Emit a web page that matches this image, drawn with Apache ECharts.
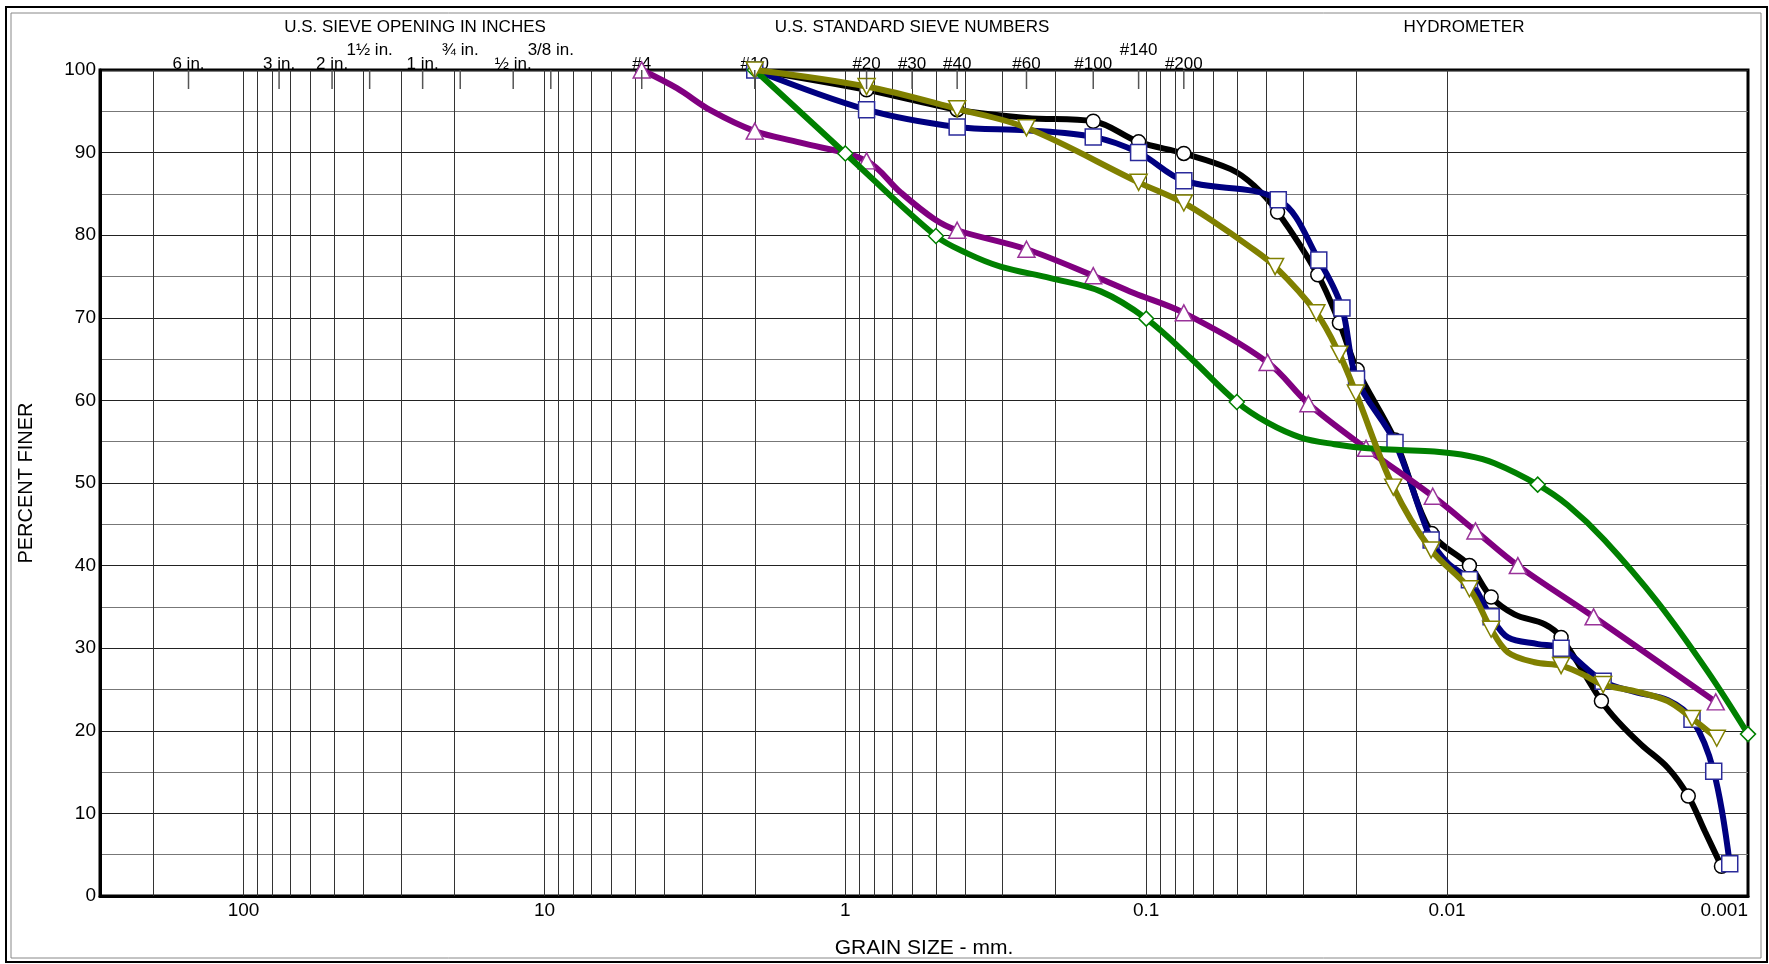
<!DOCTYPE html>
<html><head><meta charset="utf-8">
<script src="https://cdn.jsdelivr.net/npm/echarts@6/dist/echarts.min.js"></script>
<style>html,body{margin:0;padding:0;background:#fff}#c{width:1769px;height:964px}</style>
</head><body><div id="c"></div>
<script>
// ---- top sieve scale ----
const sieveSizes  = [152.4, 76.2, 50.8, 38.1, 25.4, 19.05, 12.7, 9.525, 4.75, 2.0, 0.85, 0.6, 0.425, 0.25, 0.15, 0.106, 0.075];
const sieveLabels = ['6 in.', '3 in.', '2 in.', '1½ in.', '1 in.', '¾ in.', '½ in.', '3/8 in.', '#4', '#10', '#20', '#30', '#40', '#60', '#100', '#140', '#200'];
const sieveRaised = [0, 0, 0, 1, 0, 1, 0, 1, 0, 0, 0, 0, 0, 0, 0, 1, 0];
const groupTitles = ['U.S. SIEVE OPENING IN INCHES', 'U.S. STANDARD SIEVE NUMBERS', 'HYDROMETER'];
const xTickLabels = [100, 10, 1, 0.1, 0.01, 0.001];

// ---- sample data: [grain size mm, percent finer] (marker points) ----
const blackMarks  = [[2.0,100],[0.85,97.6],[0.425,95.2],[0.15,93.8],[0.106,91.3],[0.075,89.9],[0.0366,82.8],[0.0269,75.2],[0.0228,69.4],[0.0199,63.7],[0.0149,55.2],[0.01125,43.9],[0.00843,40.0],[0.00714,36.2],[0.00418,31.3],[0.00307,23.6],[0.00158,12.1],[0.001225,3.6]];
const blueMarks   = [[2.0,100],[0.85,95.2],[0.425,93.1],[0.15,91.9],[0.106,90.0],[0.075,86.6],[0.0364,84.3],[0.0267,77.0],[0.02236,71.2],[0.0200,62.6],[0.0149,54.9],[0.0113,43.1],[0.00843,38.3],[0.00714,33.8],[0.00418,30.0],[0.00303,26.0],[0.001535,21.4],[0.0013,15.1],[0.00115,3.9]];
const oliveMarks  = [[2.0,100],[0.85,98.0],[0.425,95.3],[0.25,93.0],[0.106,86.4],[0.075,83.9],[0.0373,76.2],[0.0272,70.6],[0.0228,65.6],[0.0201,60.9],[0.0151,49.5],[0.0113,41.9],[0.00843,37.2],[0.00714,32.3],[0.00418,27.9],[0.00303,25.6],[0.001535,21.5],[0.00127,19.1]];
const purpleMarks = [[4.75,100],[2.0,92.6],[0.85,89.0],[0.425,80.6],[0.25,78.3],[0.15,75.1],[0.075,70.6],[0.0395,64.6],[0.0289,59.6],[0.0186,54.2],[0.01116,48.4],[0.00805,44.2],[0.00582,40.0],[0.00326,33.8],[0.00128,23.5]];
const greenMarks  = [[2.0,100],[1.0,89.9],[0.5,79.9],[0.1,69.9],[0.05,59.8],[0.005,49.8],[0.001,19.6]];

// ---- extra points (between markers) ----
const blackCurve  = [[0.25,94.2],[0.0524,88.0],[0.0438,86.0],[0.00597,34.1],[0.00474,32.9],[0.0027,21.1],[0.00226,18.3],[0.001845,15.5],[0.00139,7.8]];
const blueCurve   = [[0.25,92.7],[0.00995,40.3],[0.00628,31.3],[0.00499,30.5],[0.00238,24.7],[0.001845,23.7]];
const oliveCurve  = [[0.0595,81.6],[0.0461,78.8],[0.00628,29.5],[0.00512,28.3],[0.00358,26.9],[0.00238,24.8],[0.00185,23.6]];
const purpleCurve = [[3.63,97.8],[2.8,95.1],[1.41,91.2],[0.656,85.2],[0.508,82.0],[0.11,73.0]];
const greenCurve  = [[0.3935,77.8],[0.305,76.2],[0.208,74.8],[0.1417,73.2],[0.0711,65.1],[0.0395,57.3],[0.0306,55.5],[0.0237,54.7],[0.01836,54.2],[0.01422,54.0],[0.01103,53.8],[0.00854,53.3],[0.00696,52.4],[0.00397,47.3],[0.003,43.1],[0.00199,35.5],[0.001357,27.1]];

const FONT = 'Liberation Sans, Arial, sans-serif';
// drawing order: black, blue, purple, green, olive (olive on top)
const samples = [
  {marks: blackMarks,  curve: blackCurve,  color: '#000000', border: '#000000', symbol: 'circle',   size: 14},
  {marks: blueMarks,   curve: blueCurve,   color: '#000080', border: '#2a2a9a', symbol: 'rect',     size: 16},
  {marks: purpleMarks, curve: purpleCurve, color: '#800080', border: '#993399', symbol: 'triangle', size: [17, 16]},
  {marks: greenMarks,  curve: greenCurve,  color: '#008000', border: '#008000', symbol: 'diamond',  size: [15, 15]},
  {marks: oliveMarks,  curve: oliveCurve,  color: '#808000', border: '#808000', symbol: 'path://M0,0 L10,0 L5,9 Z', size: [17, 16]}
];

// vertical log grid values (1..9 x 10^k)
const vGrid = [];
for (let k = -3; k <= 2; k++) for (let m = 1; m <= 9; m++) {
  const v = +(m * Math.pow(10, k)).toPrecision(3);
  if (v > 0.001 && v < 300) vGrid.push(v);
}

const series = [{
  type: 'line', data: [], silent: true, z: 1,
  markLine: {
    silent: true, symbol: 'none', animation: false,
    label: {show: false},
    lineStyle: {color: '#333', width: 1, type: 'solid'},
    data: vGrid.map(v => ({xAxis: v}))
  }
}];
samples.forEach((s, i) => {
  const all = s.marks.concat(s.curve).sort((a, b) => b[0] - a[0]);
  series.push({
    type: 'line', data: all, smooth: 0.35, showSymbol: false, silent: true,
    lineStyle: {color: s.color, width: 6}, z: 3 + i * 2, animation: false
  });
  series.push({
    type: 'scatter', data: s.marks, symbol: s.symbol, symbolSize: s.size, silent: true,
    itemStyle: {color: '#ffffff', borderColor: s.border, borderWidth: 1.5, opacity: 1},
    z: 4 + i * 2, animation: false
  });
});

const chart = echarts.init(document.getElementById('c'), null, {renderer: 'canvas'});
chart.setOption({
  animation: false,
  backgroundColor: '#ffffff',
  grid: {left: 100, right: 21, top: 70, bottom: 62, show: true, borderColor: '#000', borderWidth: 3, backgroundColor: 'transparent'},
  xAxis: {
    type: 'log', logBase: 10, min: 0.001, max: 300, inverse: true,
    name: 'GRAIN SIZE - mm.', nameLocation: 'middle', nameGap: 42,
    nameTextStyle: {fontFamily: FONT, fontSize: 21, color: '#000'},
    axisLine: {show: true, lineStyle: {color: '#000', width: 3}},
    axisTick: {show: false},
    splitLine: {show: false},
    axisLabel: {
      fontFamily: FONT, fontSize: 19, color: '#000', margin: 5,
      showMinLabel: true, showMaxLabel: false,
      formatter: v => {
        const hit = xTickLabels.find(t => Math.abs(Math.log10(t) - Math.log10(v)) < 1e-6);
        return (hit === undefined || hit === 0.001) ? '' : String(hit);
      }
    }
  },
  yAxis: {
    type: 'value', min: 0, max: 100, interval: 10,
    name: 'PERCENT FINER', nameLocation: 'middle', nameGap: 64, nameRotate: 90,
    nameTextStyle: {fontFamily: FONT, fontSize: 20, color: '#000'},
    axisLine: {show: true, lineStyle: {color: '#000', width: 3}},
    axisTick: {show: false},
    axisLabel: {fontFamily: FONT, fontSize: 19, color: '#000', margin: 4},
    splitLine: {show: true, lineStyle: {color: '#222', width: 1}},
    minorTick: {show: false, splitNumber: 2},
    minorSplitLine: {show: true, lineStyle: {color: '#777', width: 1}}
  },
  series: series
});

// overlay: frame, group titles, sieve ticks and labels positioned by the axis scale
const topY = chart.convertToPixel({yAxisIndex: 0}, 100);
const botY = chart.convertToPixel({yAxisIndex: 0}, 0);
const g = [
  {type: 'rect', shape: {x: 6, y: 7, width: 1761, height: 955}, style: {fill: 'none', stroke: '#000', lineWidth: 2}, silent: true},
  {type: 'rect', shape: {x: 11, y: 13, width: 1750, height: 945}, style: {fill: 'none', stroke: '#888', lineWidth: 1}, silent: true}
];
const titleX = [415, 912, 1464];
groupTitles.forEach((t, i) => g.push({
  type: 'text', x: titleX[i], y: 27, silent: true,
  style: {text: t, fontFamily: FONT, fontSize: 17, fill: '#000', align: 'center', verticalAlign: 'middle'}
}));
sieveSizes.forEach((d, i) => {
  const x = chart.convertToPixel({xAxisIndex: 0}, d);
  g.push({type: 'line', shape: {x1: x, y1: topY, x2: x, y2: topY + 19}, style: {stroke: '#555', lineWidth: 1.5}, silent: true, z: 50});
  g.push({
    type: 'text', x: x, y: sieveRaised[i] ? topY - 20 : topY - 6, silent: true,
    style: {text: sieveLabels[i], fontFamily: FONT, fontSize: 17, fill: '#000', align: 'center', verticalAlign: 'middle'}
  });
});
// last bottom tick label sits right-aligned at the axis end
const lastX = chart.convertToPixel({xAxisIndex: 0}, xTickLabels[xTickLabels.length - 1]);
g.push({
  type: 'text', x: lastX, y: botY + 5, silent: true,
  style: {text: String(xTickLabels[xTickLabels.length - 1]), fontFamily: FONT, fontSize: 19, fill: '#000', align: 'right', verticalAlign: 'top'}
});
chart.setOption({graphic: g});
</script>
</body></html>
